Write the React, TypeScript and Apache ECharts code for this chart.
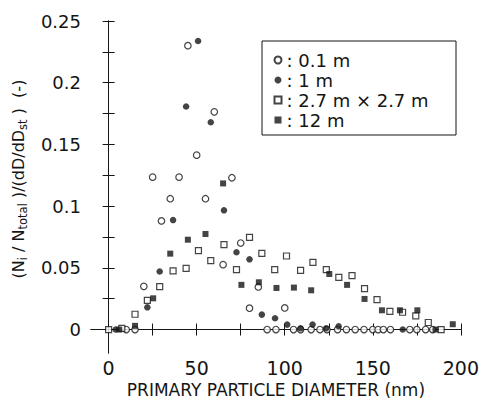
import React, { useEffect, useRef } from "react";
import * as echarts from "echarts";

const SERIES_NAMES = ["0.1 m", "1 m", "2.7 m × 2.7 m", "12 m"];

// 0.1 m – open circles
const OPEN_CIRCLES: [number, number][] = [
  [10, 0], [15, 0], [20, 0.035], [25, 0.1235], [30, 0.088], [35, 0.106], [40, 0.1235],
  [45, 0.23], [50, 0.1413], [55, 0.106], [60, 0.1764], [65, 0.0526], [70, 0.123],
  [75, 0.0701], [80, 0.0173], [85, 0.0345], [90, 0], [95, 0], [100, 0.0175], [105, 0],
  [109, 0], [115, 0], [120, 0], [124, 0], [130, 0], [135, 0], [140, 0], [145, 0],
  [150, 0], [153, 0], [156, 0], [160, 0], [171, 0], [175, 0], [180, 0], [184, 0],
];

// 1 m – filled circles
const FILLED_CIRCLES: [number, number][] = [
  [4, 0], [22, 0.018], [29, 0.047], [36.6, 0.0887], [44, 0.1807], [50.8, 0.2338],
  [58, 0.168], [65.5, 0.0966], [72.6, 0.0626], [80, 0.0569], [87, 0.0121],
  [94.5, 0.0092], [101.4, 0.004], [109, 0.001], [115.8, 0.004], [123.5, 0.001],
  [130.6, 0.0027], [167, 0],
];

// 2.7 m x 2.7 m – open squares
const OPEN_SQUARES: [number, number][] = [
  [0, 0], [7.5, 0.001], [15, 0.0124], [22, 0.0237], [29, 0.0348], [36.6, 0.0475],
  [44, 0.0496], [51, 0.0639], [58, 0.0558], [65.5, 0.0688], [72.6, 0.0485],
  [80, 0.0747], [87, 0.0617], [94.3, 0.0485], [101, 0.0596], [109, 0.048],
  [116, 0.0545], [123.6, 0.0485], [130.7, 0.0423], [138.2, 0.0437], [145.3, 0.0332],
  [152.4, 0.0243], [159.7, 0.0148], [166.9, 0.014], [174.4, 0.011], [181.5, 0.0057],
  [188.8, 0],
];

// 12 m – filled squares
const FILLED_SQUARES: [number, number][] = [
  [6, 0], [15, 0.003], [25.3, 0.0253], [35, 0.0615], [45, 0.0728], [55, 0.0774],
  [65, 0.1184], [75.4, 0.0362], [85.3, 0.0383], [95.3, 0.0337], [105.2, 0.034],
  [115, 0.0318], [125.3, 0.045], [135.4, 0.0362], [145.3, 0.0248], [155.2, 0.0156],
  [165.4, 0.0156], [175.3, 0.0156], [185.6, 0], [195.4, 0.0043],
];

const X_LABELS = [0, 50, 100, 150, 200];
const X_TICKS = [0, 25, 50, 75, 100, 125, 150, 175, 200];
const Y_LABELS = [0, 0.05, 0.1, 0.15, 0.2, 0.25];
const Y_TICKS = [0, 0.025, 0.05, 0.075, 0.1, 0.125, 0.15, 0.175, 0.2, 0.225, 0.25];

const INK = "#151515";
const FONT = "DejaVu Sans";

export default function App() {
  const ref = useRef<HTMLDivElement>(null);

  useEffect(() => {
    if (!ref.current) return;
    const chart = echarts.init(ref.current, null, { renderer: "svg" });
    const line = { show: true, lineStyle: { color: INK, width: 1 } };
    const tick = (vals: number[]) => ({
      show: true,
      inside: true,
      length: 6,
      customValues: vals,
      lineStyle: { color: INK, width: 1 },
    });
    chart.setOption({
      animation: false,
      backgroundColor: "#fff",
      grid: { left: 91, right: 17, top: 21, bottom: 62 },
      graphic: [
        {
          type: "rect",
          shape: { x: 262, y: 41, width: 194, height: 94 },
          style: { fill: "none", stroke: INK, lineWidth: 1 },
          silent: true,
          z: 10,
        },
      ],
      xAxis: [
        {
          type: "value",
          min: -10,
          max: 200,
          position: "bottom",
          axisLine: line,
          axisTick: tick(X_TICKS),
          axisLabel: {
            customValues: X_LABELS,
            fontSize: 19,
            fontFamily: FONT,
            color: INK,
            margin: 5,
          },
          splitLine: { show: false },
          name: "PRIMARY PARTICLE DIAMETER (nm)",
          nameLocation: "middle",
          nameGap: 27,
          nameTextStyle: { fontSize: 17, fontFamily: FONT, color: INK },
        },
        {
          type: "value",
          min: -10,
          max: 200,
          position: "top",
          axisLine: line,
          axisTick: tick(X_TICKS),
          axisLabel: { show: false },
          splitLine: { show: false },
        },
      ],
      yAxis: [
        {
          type: "value",
          min: -0.019,
          max: 0.25,
          position: "left",
          axisLine: line,
          axisTick: tick(Y_TICKS),
          axisLabel: {
            customValues: Y_LABELS,
            fontSize: 18,
            fontFamily: FONT,
            color: INK,
            margin: 10,
          },
          splitLine: { show: false },
          name: "{m|(N}{s|i}{m| / N}{s|total}{m| )/(dD/dD}{s|st}{m| )  (-)}",
          nameLocation: "middle",
          nameGap: 62,
          nameTextStyle: {
            padding: [0, 0, 0, 16],
            rich: {
              m: { fontSize: 16, fontFamily: FONT, color: INK, lineHeight: 22 },
              s: {
                fontSize: 11.5,
                fontFamily: FONT,
                color: INK,
                lineHeight: 12,
                verticalAlign: "bottom",
              },
            },
          },
        },
        {
          type: "value",
          min: -0.019,
          max: 0.25,
          position: "right",
          axisLine: line,
          axisTick: tick(Y_TICKS),
          axisLabel: { show: false },
          splitLine: { show: false },
        },
      ],
      legend: {
        orient: "vertical",
        left: 262,
        top: 41,
        padding: [9, 10, 5, 11.5],
        itemGap: 0,
        itemWidth: 7,
        itemHeight: 7,
        borderWidth: 0,
        formatter: (n: string) => ": " + n,
        textStyle: { fontSize: 18, fontFamily: FONT, color: INK, lineHeight: 20 },
        data: SERIES_NAMES,
      },
      series: [
        {
          name: SERIES_NAMES[0],
          type: "scatter",
          data: OPEN_CIRCLES,
          symbol: "circle",
          symbolSize: 6.5,
          itemStyle: { color: "#fff", borderColor: INK, borderWidth: 1.2 },
        },
        {
          name: SERIES_NAMES[1],
          type: "scatter",
          data: FILLED_CIRCLES,
          symbol: "circle",
          symbolSize: 6.5,
          itemStyle: { color: INK },
        },
        {
          name: SERIES_NAMES[2],
          type: "scatter",
          data: OPEN_SQUARES,
          symbol: "rect",
          symbolSize: 6,
          itemStyle: { color: "#fff", borderColor: INK, borderWidth: 1.2 },
        },
        {
          name: SERIES_NAMES[3],
          type: "scatter",
          data: FILLED_SQUARES,
          symbol: "rect",
          symbolSize: 6,
          itemStyle: { color: INK },
        },
      ],
    });
    return () => chart.dispose();
  }, []);

  return (
    <div
      ref={ref}
      style={{ position: "absolute", left: 0, top: 0, width: 482, height: 415, background: "#fff" }}
    />
  );
}
